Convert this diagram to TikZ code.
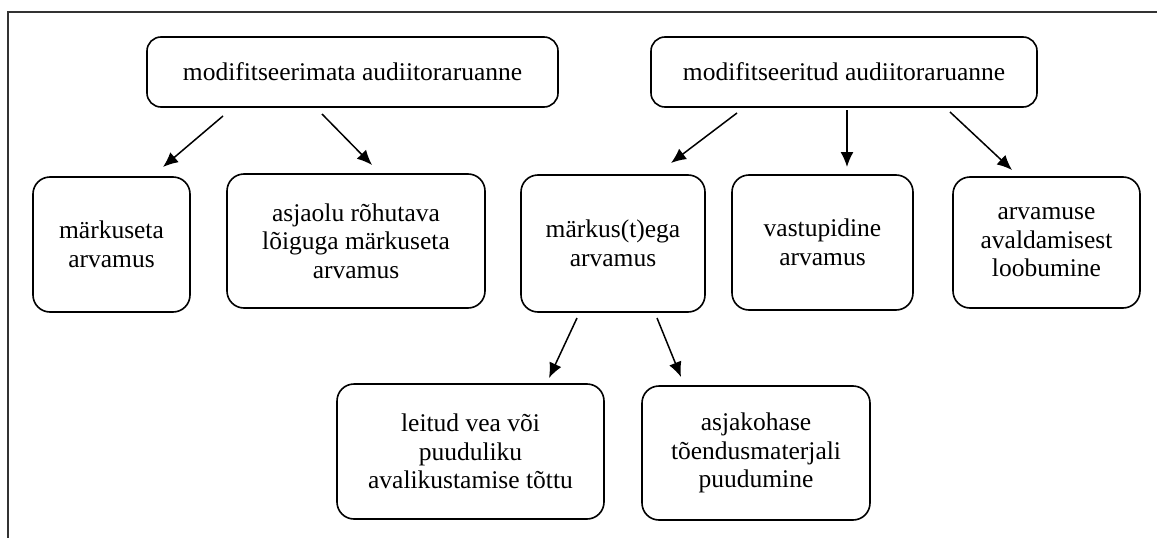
\documentclass[tikz,border=0pt]{standalone}
\usepackage{fontspec}
\setmainfont{Liberation Serif}
\usetikzlibrary{arrows.meta}
\tikzset{
  box/.style={draw, line width=1.6pt, rounded corners=17pt, align=center,
    inner sep=0pt, font=\fontsize{25.5}{28.5}\selectfont},
  topbox/.style={box, rounded corners=14pt},
  arr/.style={line width=1.5pt, -{Latex[length=15pt,width=13pt]}},
  frame/.style={line width=1.6pt, draw=black!80}
}
\begin{document}
\begin{tikzpicture}[x=1pt,y=-1pt]
\useasboundingbox (0,0) rectangle (1157,538);
\draw[frame] (8,538) -- (8,12) -- (1157,12);

\node[topbox, minimum width=411pt, minimum height=70pt] (b1) at (352.5,72) {modifitseerimata audiitoraruanne};
\node[topbox, minimum width=386pt, minimum height=70pt] (b2) at (844,72) {modifitseeritud audiitoraruanne};

\node[box, minimum width=157pt, minimum height=135pt] (b3) at (111.5,244.5) {märkuseta\\arvamus};
\node[box, minimum width=258pt, minimum height=134pt] (b4) at (356,241) {asjaolu rõhutava\\lõiguga märkuseta\\arvamus};
\node[box, minimum width=184pt, minimum height=137pt] (b5) at (613,243.5) {märkus(t)ega\\arvamus};
\node[box, minimum width=181pt, minimum height=135pt] (b6) at (822.5,242.5) {vastupidine\\arvamus};
\node[box, minimum width=187pt, minimum height=131pt] (b7) at (1046.5,242.5) {arvamuse\\avaldamisest\\loobumine};
\node[box, minimum width=267pt, minimum height=135pt] (b8) at (470.5,451.5) {leitud vea või\\puuduliku\\avalikustamise tõttu};
\node[box, minimum width=228pt, minimum height=134pt] (b9) at (756,453) {asjakohase\\tõendusmaterjali\\puudumine};

\coordinate (s13) at (223,116); \coordinate (e13) at (163,167);
\coordinate (s14) at (322,114); \coordinate (e14) at (372,165);
\coordinate (s25) at (737,113); \coordinate (e25) at (671,163);
\coordinate (s26) at (847,110); \coordinate (e26) at (847,167);
\coordinate (s27) at (950,112); \coordinate (e27) at (1012,170);
\coordinate (s58) at (577,318); \coordinate (e58) at (549,378);
\coordinate (s59) at (657,318); \coordinate (e59) at (681,377);

\draw[arr] (s13) -- (e13);
\draw[arr] (s14) -- (e14);
\draw[arr] (s25) -- (e25);
\draw[arr] (s26) -- (e26);
\draw[arr] (s27) -- (e27);
\draw[arr] (s58) -- (e58);
\draw[arr] (s59) -- (e59);
\end{tikzpicture}
\end{document}
